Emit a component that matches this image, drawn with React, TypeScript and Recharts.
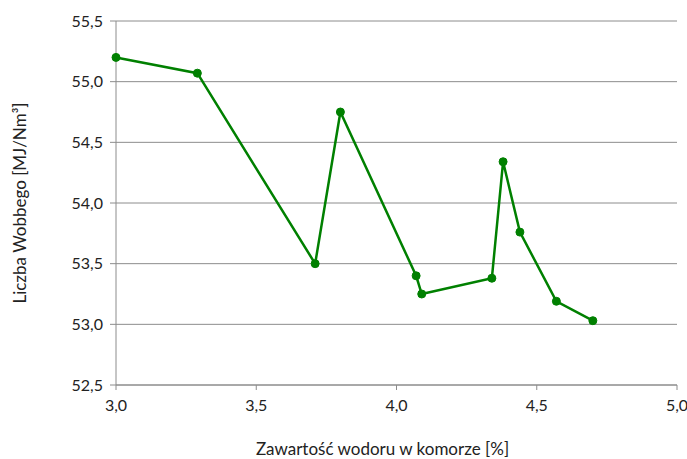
import { LineChart, Line, XAxis, YAxis, CartesianGrid, Label } from 'recharts';

const hydrogen = [3.0, 3.29, 3.71, 3.8, 4.07, 4.09, 4.34, 4.38, 4.44, 4.57, 4.7];
const wobbe = [55.2, 55.07, 53.5, 54.75, 53.4, 53.25, 53.38, 54.34, 53.76, 53.19, 53.03];
const xTicks = [3.0, 3.5, 4.0, 4.5, 5.0];
const yTicks = [52.5, 53.0, 53.5, 54.0, 54.5, 55.0, 55.5];

const data = hydrogen.map((x, i) => ({ x, y: wobbe[i] }));

const fmt = (v: number) => v.toFixed(1).replace('.', ',');
const font = 'Lato, "Open Sans", sans-serif';

export default function App() {
    return (
        <div style={{ position: 'absolute', left: 0, top: 0, width: 687, height: 459, background: '#fff' }}>
            <LineChart
                width={687}
                height={459}
                data={data}
                margin={{ top: 21, right: 10, left: 0, bottom: 23 }}
            >
                <CartesianGrid vertical={false} stroke="#8c8c8c" strokeWidth={1} />
                <XAxis
                    dataKey="x"
                    type="number"
                    domain={[3, 5]}
                    ticks={xTicks}
                    tickFormatter={fmt}
                    height={51}
                    stroke="#8c8c8c"
                    tickSize={5}
                    tickMargin={10}
                    tick={{ fill: '#222', fontSize: 16, fontFamily: font }}
                >
                    <Label
                        value="Zawartość wodoru w komorze [%]"
                        position="bottom"
                        offset={7}
                        dx={-14}
                        style={{ fill: '#222', fontSize: 17, fontFamily: font }}
                    />
                </XAxis>
                <YAxis
                    type="number"
                    domain={[52.5, 55.5]}
                    ticks={yTicks}
                    tickFormatter={fmt}
                    width={116}
                    stroke="#8c8c8c"
                    tickSize={6}
                    tickMargin={7}
                    tick={{ fill: '#222', fontSize: 16, fontFamily: font }}
                >
                    <Label
                        value="Liczba Wobbego [MJ/Nm³]"
                        angle={-90}
                        position="insideLeft"
                        offset={20}
                        style={{ fill: '#222', fontSize: 17, fontFamily: font, textAnchor: 'middle' }}
                    />
                </YAxis>
                <Line
                    type="linear"
                    dataKey="y"
                    stroke="#008000"
                    strokeWidth={2.5}
                    dot={{ r: 4, fill: '#008000', stroke: '#008000', strokeWidth: 1 }}
                    isAnimationActive={false}
                />
            </LineChart>
        </div>
    );
}
